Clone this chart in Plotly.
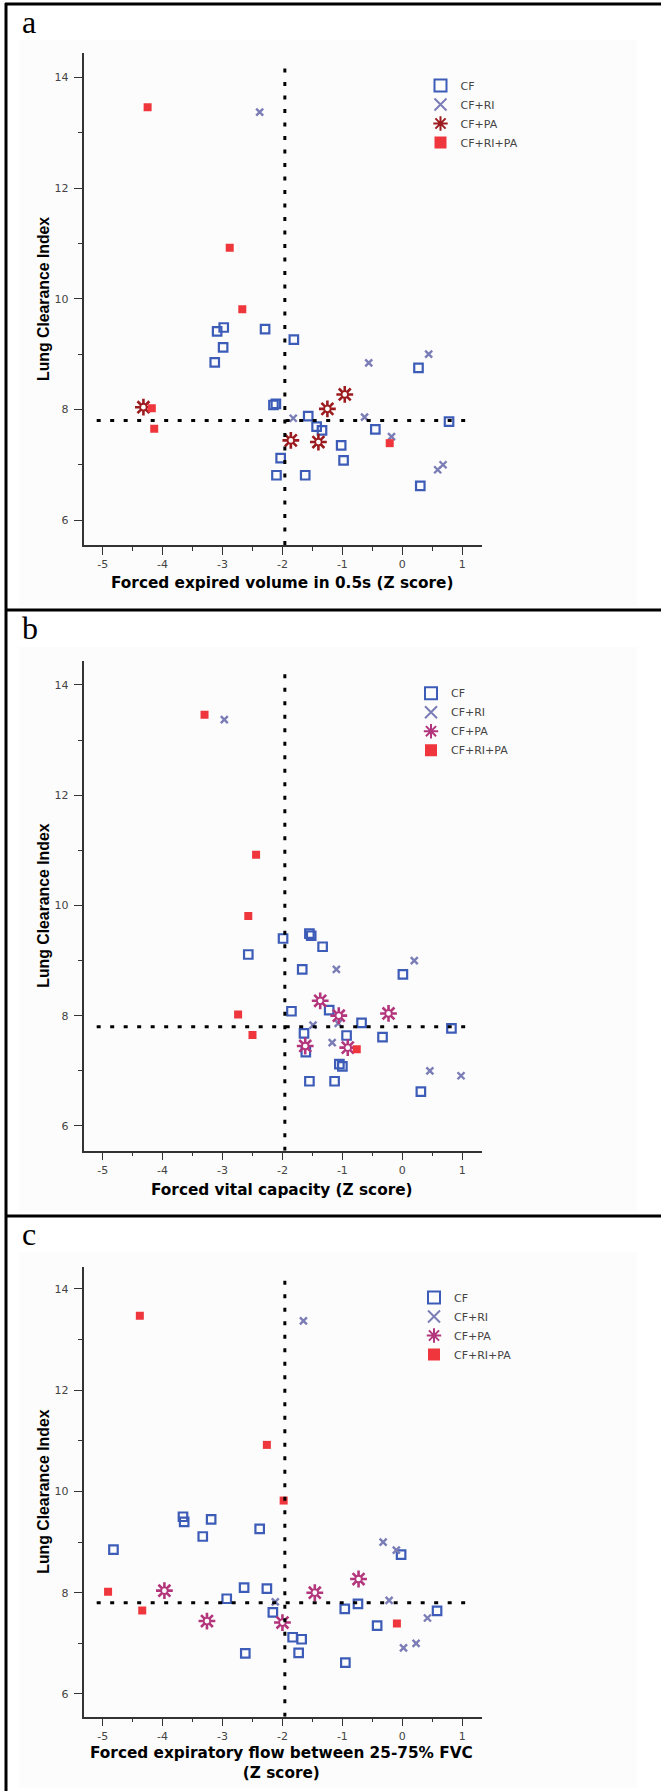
import plotly.graph_objects as go

W, H = 661, 1791

# ---------------- data ----------------
LCI_ULN = 7.8      # horizontal dotted reference line (LCI upper limit)
Z_LLN = -1.96      # vertical dotted reference line (Z score lower limit)

GROUPS = ["CF", "CF+RI", "CF+PA", "CF+RI+PA"]

# Panel a: FEV0.5 Z score
A_CF_X = [-3.09, -2.98, -2.99, -3.13, -2.29, -1.81, -2.15, -2.11, -1.57, -1.43, -1.34, -1.02, -0.98, -2.03, -2.10, -1.62, -0.45, 0.27, 0.30, 0.78]
A_CF_Y = [9.41, 9.48, 9.12, 8.85, 9.45, 9.26, 8.08, 8.10, 7.88, 7.69, 7.62, 7.35, 7.08, 7.12, 6.81, 6.81, 7.64, 8.75, 6.62, 7.78]
A_RI_X = [-2.38, -0.56, 0.44, -1.82, -0.63, -0.18, 0.59, 0.68]
A_RI_Y = [13.37, 8.84, 9.00, 7.84, 7.86, 7.51, 6.91, 7.00]
A_PA_X = [-4.32, -0.96, -1.25, -1.86, -1.40]
A_PA_Y = [8.04, 8.27, 8.01, 7.44, 7.41]
A_RIPA_X = [-4.25, -2.88, -2.67, -4.18, -4.14, -0.21]
A_RIPA_Y = [13.46, 10.92, 9.81, 8.02, 7.65, 7.39]

# Panel b: FVC Z score
B_CF_X = [-1.99, -1.55, -1.52, -1.33, -2.57, -1.67, 0.01, -1.85, -1.22, -0.68, -1.64, -0.93, -0.33, -1.61, -1.05, -1.00, -1.55, -1.13, 0.31, 0.82]
B_CF_Y = [9.40, 9.49, 9.45, 9.25, 9.11, 8.84, 8.75, 8.08, 8.10, 7.87, 7.68, 7.64, 7.61, 7.34, 7.12, 7.08, 6.81, 6.81, 6.62, 7.77]
B_RI_X = [-2.97, -1.10, 0.20, -1.49, -1.07, -1.17, 0.46, 0.98]
B_RI_Y = [13.37, 8.84, 9.00, 7.83, 7.86, 7.51, 7.00, 6.91]
B_PA_X = [-1.37, -1.06, -0.23, -1.62, -0.91]
B_PA_Y = [8.27, 8.00, 8.04, 7.45, 7.42]
B_RIPA_X = [-3.30, -2.44, -2.57, -2.74, -2.50, -0.76]
B_RIPA_Y = [13.46, 10.92, 9.81, 8.02, 7.65, 7.39]

# Panel c: FEF25-75 Z score
C_CF_X = [-3.66, -3.64, -3.19, -2.38, -3.33, -4.82, -0.02, -2.64, -2.26, -2.93, -2.16, -0.96, -0.74, -0.42, 0.58, -1.83, -1.68, -2.62, -1.73, -0.95]
C_CF_Y = [9.50, 9.40, 9.45, 9.26, 9.11, 8.85, 8.75, 8.10, 8.08, 7.88, 7.61, 7.68, 7.78, 7.35, 7.64, 7.12, 7.08, 6.80, 6.81, 6.62]
C_RI_X = [-1.65, -0.32, -0.10, -2.12, -0.22, 0.42, 0.02, 0.23]
C_RI_Y = [13.37, 9.00, 8.84, 7.82, 7.85, 7.50, 6.91, 7.00]
C_PA_X = [-3.97, -0.73, -1.46, -3.26, -2.00]
C_PA_Y = [8.04, 8.27, 8.00, 7.44, 7.41]
C_RIPA_X = [-4.38, -2.26, -1.98, -4.91, -4.34, -0.09]
C_RIPA_Y = [13.47, 10.92, 9.82, 8.02, 7.65, 7.39]

X_TICKS = [-5, -4, -3, -2, -1, 0, 1]
Y_TICKS = [6, 8, 10, 12, 14]
PANEL_LABELS = ["a", "b", "c"]
X_TITLES = [
    "Forced expired volume in 0.5s (Z score)",
    "Forced vital capacity (Z score)",
    "Forced expiratory flow between 25-75% FVC<br>(Z score)",
]
Y_TITLE = "Lung Clearance Index"

# ---------------- styling / layout ----------------
C_CF = "#3d5cb8"
C_RI = "#7b7eb6"
C_PA = ["#9c1b1f", "#b3367c", "#b3367c"]
C_RIPA = "#ee363c"

SANS = "Liberation Sans, Arial, sans-serif"
WIDE = "DejaVu Sans, Verdana, sans-serif"
SERIF = "Liberation Serif, Times New Roman, serif"

X_RANGE = [-5.32, 1.33]
Y_RANGE = [5.55, 14.44]
PLOT_LEFT, PLOT_RIGHT = 83.5, 482.0

GEOM = [
    dict(top=53.0, bottom=545.0, box_top=4, bg_top=40, bg_bot=606, label_y=22, xt_y=583, leg_x=440.5, leg_y=84),
    dict(top=660.7, bottom=1150.7, box_top=610, bg_top=647, bg_bot=1212, label_y=628, xt_y=1190, leg_x=431, leg_y=691.7),
    dict(top=1266.7, bottom=1716.7, box_top=1216, bg_top=1252, bg_bot=1788, label_y=1234, xt_y=1763, leg_x=434, leg_y=1296),
]

def fx(px):
    return px / W

def fy(py):
    return 1 - py / H

panels = [
    (A_CF_X, A_CF_Y, A_RI_X, A_RI_Y, A_PA_X, A_PA_Y, A_RIPA_X, A_RIPA_Y),
    (B_CF_X, B_CF_Y, B_RI_X, B_RI_Y, B_PA_X, B_PA_Y, B_RIPA_X, B_RIPA_Y),
    (C_CF_X, C_CF_Y, C_RI_X, C_RI_Y, C_PA_X, C_PA_Y, C_RIPA_X, C_RIPA_Y),
]

fig = go.Figure()
shapes = []
annotations = []
layout = dict(
    width=W, height=H, autosize=False,
    margin=dict(l=0, r=0, t=0, b=0),
    paper_bgcolor="white", plot_bgcolor="rgba(0,0,0,0)",
    showlegend=True,
)

for i, (cfx, cfy, rix, riy, pax, pay, rpx, rpy) in enumerate(panels):
    g = GEOM[i]
    sfx = "" if i == 0 else str(i + 1)
    xa, ya = "x" + sfx, "y" + sfx
    leg = "legend" + sfx

    common = dict(xaxis=xa, yaxis=ya, legend=leg, mode="markers")
    fig.add_trace(go.Scatter(x=cfx, y=cfy, name=GROUPS[0],
                             marker=dict(symbol="square-open", size=8.5, color=C_CF,
                                         line=dict(width=2.2, color=C_CF)), **common))
    fig.add_trace(go.Scatter(x=rix, y=riy, name=GROUPS[1],
                             marker=dict(symbol="x-thin-open", size=7, color=C_RI,
                                         line=dict(width=2.4, color=C_RI)), **common))
    fig.add_trace(go.Scatter(x=pax, y=pay, name=GROUPS[2],
                             marker=dict(symbol="asterisk-open", size=14, color=C_PA[i],
                                         line=dict(width=2.6, color=C_PA[i])), **common))
    fig.add_trace(go.Scatter(x=pax, y=pay, name=GROUPS[2], showlegend=False, hoverinfo="skip",
                             marker=dict(symbol="circle", size=6.5, color="white",
                                         line=dict(width=1.8, color=C_PA[i])), **common))
    fig.add_trace(go.Scatter(x=rpx, y=rpy, name=GROUPS[3],
                             marker=dict(symbol="square", size=8, color=C_RIPA,
                                         line=dict(width=0)), **common))

    axis_common = dict(
        showline=True, linecolor="#333333", linewidth=1.5,
        ticks="outside", ticklen=8, tickwidth=1.3, tickcolor="#333333",
        showgrid=False, zeroline=False,
        tickfont=dict(family=WIDE, size=11, color="#444444"),
    )
    layout["xaxis" + sfx] = dict(
        domain=[fx(PLOT_LEFT), fx(PLOT_RIGHT)], range=X_RANGE, anchor=ya,
        tickvals=X_TICKS, ticktext=[str(v) for v in X_TICKS],
        minor=dict(dtick=0.5, tick0=0, ticks="outside", ticklen=4, tickwidth=1.2,
                   tickcolor="#333333", showgrid=False),
        **axis_common)
    layout["yaxis" + sfx] = dict(
        domain=[fy(g["bottom"]), fy(g["top"])], range=Y_RANGE, anchor=xa,
        tickvals=Y_TICKS, ticktext=[str(v) for v in Y_TICKS], ticklabelstandoff=3,
        minor=dict(dtick=1, tick0=0, ticks="outside", ticklen=4, tickwidth=1.2,
                   tickcolor="#333333", showgrid=False),
        **axis_common)

    layout[leg] = dict(
        x=fx(g["leg_x"] - 20), xanchor="left",
        y=fy(g["leg_y"] - 13), yanchor="top",
        bgcolor="rgba(0,0,0,0)", borderwidth=0,
        font=dict(family=WIDE, size=11, color="#444444"),
        itemsizing="constant", tracegroupgap=0,
    )

    shapes.append(dict(type="rect", xref="paper", yref="paper", layer="below",
                       x0=fx(19), x1=fx(637), y0=fy(g["bg_bot"]), y1=fy(g["bg_top"]),
                       fillcolor="#fcfcfc", line=dict(width=0)))
    shapes.append(dict(type="line", xref="paper", yref="paper",
                       x0=fx(5), x1=1, y0=fy(g["box_top"]), y1=fy(g["box_top"]),
                       line=dict(color="black", width=3)))
    shapes.append(dict(type="line", xref=xa, yref=ya, x0=Z_LLN, x1=Z_LLN, y0=Y_RANGE[0], y1=14.3,
                       line=dict(color="black", width=3, dash="4px,9.5px")))
    shapes.append(dict(type="line", xref=xa, yref=ya, x0=-5.1, x1=1.2, y0=LCI_ULN, y1=LCI_ULN,
                       line=dict(color="black", width=3, dash="4px,9.5px")))

    annotations.append(dict(text=PANEL_LABELS[i], xref="paper", yref="paper",
                            x=fx(20), y=fy(g["label_y"]), xanchor="left", yanchor="middle",
                            showarrow=False, font=dict(family=SERIF, size=32, color="black")))
    annotations.append(dict(text=X_TITLES[i], xref="paper", yref="paper",
                            x=fx((PLOT_LEFT + PLOT_RIGHT) / 2 - 1), y=fy(g["xt_y"]),
                            xanchor="center", yanchor="middle", showarrow=False,
                            font=dict(family=WIDE, size=15.3, color="black", weight="bold")))
    annotations.append(dict(text=Y_TITLE, xref="paper", yref="paper", textangle=-90,
                            x=fx(44), y=fy((g["top"] + g["bottom"]) / 2),
                            xanchor="center", yanchor="middle", showarrow=False,
                            font=dict(family=SANS, size=15.8, color="black", weight="bold")))

shapes.append(dict(type="line", xref="paper", yref="paper", x0=fx(6), x1=fx(6), y0=0, y1=fy(3),
                   line=dict(color="black", width=3)))

layout["shapes"] = shapes
layout["annotations"] = annotations
fig.update_layout(**layout)

fig.write_html("out.html")
